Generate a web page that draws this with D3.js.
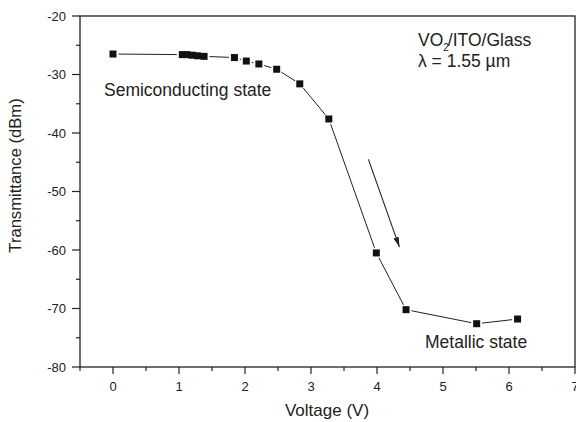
<!DOCTYPE html>
<html>
<head>
<meta charset="utf-8">
<script src="https://cdn.jsdelivr.net/npm/d3@7"></script>
<style>
  html, body { margin: 0; padding: 0; background: #fff; }
  svg { display: block; font-family: "Liberation Sans", Arial, sans-serif; }
</style>
</head>
<body>
<svg id="chart" width="576" height="422"></svg>
<script>
const voltage = [0, 1.05, 1.12, 1.2, 1.28, 1.38, 1.84, 2.02, 2.21, 2.48, 2.83, 3.27, 3.99, 4.44, 5.51, 6.13];
const transmittance = [-26.5, -26.6, -26.6, -26.7, -26.8, -26.9, -27.1, -27.7, -28.2, -29.1, -31.6, -37.6, -60.5, -70.2, -72.6, -71.8];
const xTicks = [0, 1, 2, 3, 4, 5, 6, 7];
const yTicks = [-20, -30, -40, -50, -60, -70, -80];
const arrowFrom = [3.87, -44.5];
const arrowTo = [4.34, -59.5];

const plotLeft = 80, plotRight = 575, plotTop = 16, plotBottom = 367;
const ink = "#222";

const svg = d3.select("#chart");
const x = d3.scaleLinear().domain([-0.5, 7]).range([plotLeft, plotRight]);
const y = d3.scaleLinear().domain([-80, -20]).range([plotBottom, plotTop]);

const points = voltage.map((v, i) => [x(v), y(transmittance[i])]);

// frame
svg.append("rect")
  .attr("x", plotLeft).attr("y", plotTop)
  .attr("width", plotRight - plotLeft).attr("height", plotBottom - plotTop)
  .attr("fill", "none").attr("stroke", ink).attr("stroke-width", 1.3);

// x axis: major ticks + half-unit minor ticks, pointing outward
const xAxis = svg.append("g").attr("transform", `translate(0,${plotBottom})`);
xAxis.selectAll("line")
  .data(d3.range(-0.5, 7.01, 0.5))
  .join("line")
  .attr("x1", d => x(d)).attr("x2", d => x(d))
  .attr("y1", 0).attr("y2", d => Number.isInteger(d) ? 7 : 4)
  .attr("stroke", ink).attr("stroke-width", 1.2);
xAxis.selectAll("text")
  .data(xTicks)
  .join("text")
  .attr("x", d => x(d)).attr("y", 24)
  .attr("text-anchor", "middle")
  .attr("font-size", 13).attr("fill", ink)
  .text(d => d);

// y axis
const yAxis = svg.append("g").attr("transform", `translate(${plotLeft},0)`);
yAxis.selectAll("line")
  .data(d3.range(-80, -19.9, 5))
  .join("line")
  .attr("y1", d => y(d)).attr("y2", d => y(d))
  .attr("x1", 0).attr("x2", d => d % 10 === 0 ? -8 : -4)
  .attr("stroke", ink).attr("stroke-width", 1.2);
yAxis.selectAll("text")
  .data(yTicks)
  .join("text")
  .attr("x", -14).attr("y", d => y(d))
  .attr("dy", "0.36em")
  .attr("text-anchor", "end")
  .attr("font-size", 13).attr("fill", ink)
  .text(d => d);

// axis titles
svg.append("text")
  .attr("x", 327).attr("y", 416)
  .attr("text-anchor", "middle")
  .attr("font-size", 17).attr("fill", ink)
  .text("Voltage (V)");

svg.append("text")
  .attr("transform", "translate(20.5,175.5) rotate(-90)")
  .attr("text-anchor", "middle")
  .attr("font-size", 16.6).attr("fill", ink)
  .text("Transmittance (dBm)");

// connecting line, cut short near each marker like the original plot
const gap = 5.5;
const segs = [];
for (let i = 1; i < points.length; i++) {
  const [x0, y0] = points[i - 1], [x1, y1] = points[i];
  const len = Math.hypot(x1 - x0, y1 - y0);
  if (len <= gap * 2) continue;
  const ux = (x1 - x0) / len, uy = (y1 - y0) / len;
  segs.push([x0 + ux * gap, y0 + uy * gap, x1 - ux * gap, y1 - uy * gap]);
}
svg.append("g").selectAll("line")
  .data(segs)
  .join("line")
  .attr("x1", d => d[0]).attr("y1", d => d[1])
  .attr("x2", d => d[2]).attr("y2", d => d[3])
  .attr("stroke", ink).attr("stroke-width", 1);

// square markers
const size = 7;
svg.append("g").selectAll("rect")
  .data(points)
  .join("rect")
  .attr("x", d => d[0] - size / 2).attr("y", d => d[1] - size / 2)
  .attr("width", size).attr("height", size)
  .attr("fill", "#111");

// direction arrow
svg.append("defs").append("marker")
  .attr("id", "head")
  .attr("viewBox", "0 0 10 10")
  .attr("refX", 10).attr("refY", 5)
  .attr("markerWidth", 10).attr("markerHeight", 10)
  .attr("markerUnits", "userSpaceOnUse")
  .attr("orient", "auto")
  .append("path")
  .attr("d", "M0,2.2 L10,5 L0,7.8 Z")
  .attr("fill", ink);

svg.append("line")
  .attr("x1", x(arrowFrom[0])).attr("y1", y(arrowFrom[1]))
  .attr("x2", x(arrowTo[0])).attr("y2", y(arrowTo[1]))
  .attr("stroke", ink).attr("stroke-width", 1.1)
  .attr("marker-end", "url(#head)");

// annotations
svg.append("text")
  .attr("x", 104).attr("y", 96)
  .attr("font-size", 17.5).attr("fill", ink)
  .text("Semiconducting state");

svg.append("text")
  .attr("x", 425).attr("y", 348)
  .attr("font-size", 17.5).attr("fill", ink)
  .text("Metallic state");

const sample = svg.append("text")
  .attr("x", 418).attr("y", 46)
  .attr("font-size", 17.5).attr("fill", ink);
sample.append("tspan").text("VO");
sample.append("tspan").attr("font-size", 10).attr("dy", 5).text("2");
sample.append("tspan").attr("dy", -5).attr("dx", -1).text("/ITO/Glass");

svg.append("text")
  .attr("x", 418).attr("y", 67)
  .attr("font-size", 17.5).attr("fill", ink)
  .text("λ = 1.55 µm");
</script>
</body>
</html>
